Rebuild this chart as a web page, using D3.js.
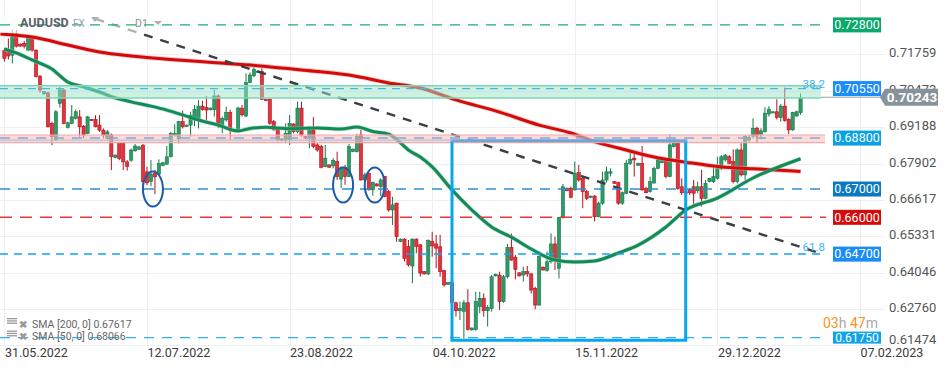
<!DOCTYPE html>
<html><head><meta charset="utf-8">
<script src="https://cdn.jsdelivr.net/npm/d3@7"></script>
<style>html,body{margin:0;padding:0;background:#fff;}svg{display:block;font-family:Roboto,"Open Sans",sans-serif;}</style>
</head><body><svg id="c" width="949" height="370"></svg>
<script>
// ---- DATA ----
const opens=[0.7189,0.7182,0.7173,0.7248,0.7212,0.7215,0.7191,0.7236,0.7191,0.7099,0.7036,0.7040,0.6932,0.6873,0.7003,0.7050,0.6918,0.6932,0.6950,0.6955,0.6922,0.6896,0.6946,0.6946,0.6926,0.6908,0.6879,0.6891,0.6812,0.6864,0.6861,0.6796,0.6802,0.6835,0.6840,0.6855,0.6761,0.6726,0.6755,0.6753,0.6783,0.6788,0.6814,0.6891,0.6879,0.6938,0.6922,0.6926,0.6944,0.6944,0.6993,0.6988,0.6980,0.6980,0.7029,0.6927,0.6944,0.6970,0.6907,0.6909,0.6986,0.6958,0.7076,0.7100,0.7112,0.7115,0.7017,0.7017,0.6938,0.6911,0.6871,0.6874,0.6874,0.6930,0.6903,0.6986,0.6885,0.6885,0.6907,0.6856,0.6850,0.6779,0.6785,0.6782,0.6797,0.6735,0.6777,0.6744,0.6832,0.6832,0.6891,0.6732,0.6756,0.6697,0.6718,0.6709,0.6744,0.6691,0.6626,0.6650,0.6515,0.6523,0.6497,0.6428,0.6523,0.6503,0.6408,0.6400,0.6514,0.6506,0.6496,0.6412,0.6363,0.6370,0.6298,0.6270,0.6267,0.6298,0.6202,0.6204,0.6284,0.6314,0.6270,0.6278,0.6393,0.6396,0.6302,0.6390,0.6494,0.6459,0.6404,0.6396,0.6408,0.6400,0.6349,0.6290,0.6424,0.6412,0.6443,0.6506,0.6420,0.6602,0.6703,0.6703,0.6697,0.6758,0.6738,0.6691,0.6671,0.6675,0.6602,0.6650,0.6732,0.6756,0.6726,0.6723,0.6650,0.6685,0.6791,0.6809,0.6784,0.6791,0.6702,0.6691,0.6721,0.6773,0.6793,0.6800,0.6744,0.6850,0.6862,0.6708,0.6690,0.6699,0.6708,0.6694,0.6708,0.6667,0.6726,0.6726,0.6738,0.6773,0.6803,0.6814,0.6797,0.6726,0.6838,0.6750,0.6873,0.6887,0.6915,0.6894,0.6903,0.6965,0.6970,0.6973,0.6953,0.6993,0.6946,0.6909,0.6958,0.6970];
const highs=[0.7197,0.7232,0.7264,0.7262,0.7215,0.7224,0.7244,0.7240,0.7193,0.7103,0.7047,0.7044,0.6938,0.6979,0.7061,0.7052,0.6938,0.6997,0.6981,0.6979,0.6926,0.6958,0.6948,0.6961,0.6961,0.6914,0.6908,0.6896,0.6822,0.6867,0.6867,0.6802,0.6843,0.6859,0.6852,0.6859,0.6779,0.6802,0.6767,0.6805,0.6795,0.6852,0.6902,0.6929,0.6941,0.6977,0.6928,0.6973,0.6997,0.7014,0.7012,0.7028,0.6988,0.7050,0.7033,0.6956,0.6991,0.6980,0.6913,0.6991,0.6997,0.7109,0.7112,0.7133,0.7120,0.7127,0.7019,0.7021,0.6944,0.6918,0.6879,0.6932,0.6962,0.6932,0.7009,0.7009,0.6887,0.6923,0.6954,0.6862,0.6856,0.6856,0.6787,0.6809,0.6832,0.6779,0.6785,0.6859,0.6843,0.6895,0.6909,0.6758,0.6758,0.6726,0.6720,0.6738,0.6746,0.6697,0.6673,0.6652,0.6525,0.6526,0.6520,0.6526,0.6526,0.6506,0.6410,0.6522,0.6549,0.6538,0.6538,0.6414,0.6372,0.6380,0.6302,0.6302,0.6308,0.6346,0.6211,0.6337,0.6337,0.6331,0.6290,0.6396,0.6401,0.6408,0.6396,0.6506,0.6543,0.6467,0.6406,0.6426,0.6428,0.6402,0.6355,0.6479,0.6426,0.6479,0.6543,0.6532,0.6602,0.6718,0.6705,0.6708,0.6797,0.6785,0.6744,0.6697,0.6677,0.6679,0.6655,0.6761,0.6779,0.6773,0.6728,0.6726,0.6691,0.6803,0.6838,0.6824,0.6793,0.6852,0.6708,0.6744,0.6779,0.6809,0.6802,0.6805,0.6894,0.6879,0.6864,0.6738,0.6693,0.6702,0.6732,0.6726,0.6767,0.6732,0.6740,0.6777,0.6814,0.6820,0.6824,0.6820,0.6840,0.6844,0.6862,0.6891,0.6891,0.6950,0.6920,0.6915,0.6989,0.6993,0.6975,0.7017,0.7001,0.7059,0.6950,0.6973,0.6977,0.7038];
const lows=[0.7150,0.7158,0.7144,0.7200,0.7203,0.7197,0.7189,0.7185,0.7094,0.7040,0.7033,0.6918,0.6855,0.6871,0.6988,0.6929,0.6914,0.6929,0.6946,0.6885,0.6879,0.6894,0.6941,0.6918,0.6902,0.6879,0.6875,0.6767,0.6809,0.6802,0.6767,0.6765,0.6796,0.6832,0.6838,0.6714,0.6714,0.6710,0.6682,0.6749,0.6781,0.6785,0.6812,0.6885,0.6861,0.6914,0.6920,0.6885,0.6922,0.6914,0.6977,0.6944,0.6978,0.6956,0.6915,0.6897,0.6938,0.6874,0.6905,0.6907,0.6956,0.6954,0.7074,0.7095,0.7110,0.7015,0.7010,0.6927,0.6907,0.6868,0.6869,0.6862,0.6856,0.6897,0.6897,0.6885,0.6878,0.6844,0.6844,0.6832,0.6773,0.6777,0.6775,0.6773,0.6732,0.6703,0.6715,0.6742,0.6830,0.6829,0.6730,0.6730,0.6695,0.6676,0.6709,0.6676,0.6671,0.6620,0.6573,0.6514,0.6512,0.6444,0.6426,0.6367,0.6473,0.6391,0.6398,0.6396,0.6461,0.6420,0.6390,0.6355,0.6361,0.6290,0.6249,0.6237,0.6172,0.6200,0.6200,0.6200,0.6261,0.6249,0.6214,0.6267,0.6391,0.6273,0.6298,0.6384,0.6447,0.6381,0.6391,0.6373,0.6390,0.6331,0.6275,0.6287,0.6412,0.6408,0.6437,0.6414,0.6384,0.6596,0.6692,0.6667,0.6694,0.6726,0.6632,0.6661,0.6669,0.6585,0.6600,0.6644,0.6723,0.6744,0.6718,0.6644,0.6644,0.6682,0.6785,0.6744,0.6782,0.6694,0.6685,0.6687,0.6720,0.6770,0.6791,0.6738,0.6741,0.6847,0.6697,0.6679,0.6686,0.6679,0.6635,0.6685,0.6638,0.6664,0.6724,0.6721,0.6734,0.6767,0.6797,0.6788,0.6720,0.6720,0.6744,0.6732,0.6867,0.6879,0.6862,0.6876,0.6899,0.6956,0.6968,0.6946,0.6938,0.6938,0.6894,0.6906,0.6956,0.6962];
const closes=[0.7162,0.7170,0.7248,0.7205,0.7205,0.7205,0.7238,0.7191,0.7097,0.7050,0.7044,0.6920,0.6885,0.6973,0.7050,0.6932,0.6934,0.6955,0.6973,0.6920,0.6891,0.6955,0.6944,0.6920,0.6908,0.6891,0.6902,0.6814,0.6820,0.6808,0.6796,0.6779,0.6838,0.6852,0.6849,0.6726,0.6722,0.6753,0.6743,0.6790,0.6793,0.6814,0.6896,0.6896,0.6938,0.6920,0.6926,0.6961,0.6981,0.6993,0.6981,0.6979,0.6986,0.7029,0.6932,0.6950,0.6970,0.6909,0.6911,0.6986,0.6962,0.7076,0.7103,0.7123,0.7117,0.7017,0.7013,0.6932,0.6909,0.6874,0.6877,0.6897,0.6932,0.6903,0.6986,0.6891,0.6880,0.6907,0.6850,0.6838,0.6777,0.6809,0.6777,0.6801,0.6744,0.6773,0.6744,0.6850,0.6841,0.6885,0.6732,0.6750,0.6697,0.6723,0.6711,0.6732,0.6673,0.6626,0.6644,0.6532,0.6523,0.6455,0.6432,0.6523,0.6497,0.6403,0.6400,0.6518,0.6499,0.6491,0.6408,0.6361,0.6370,0.6300,0.6270,0.6278,0.6298,0.6204,0.6209,0.6302,0.6314,0.6270,0.6282,0.6390,0.6399,0.6302,0.6390,0.6494,0.6449,0.6416,0.6393,0.6408,0.6400,0.6343,0.6290,0.6461,0.6414,0.6443,0.6506,0.6449,0.6600,0.6708,0.6694,0.6671,0.6756,0.6732,0.6691,0.6667,0.6675,0.6602,0.6650,0.6732,0.6761,0.6761,0.6720,0.6650,0.6687,0.6791,0.6805,0.6803,0.6791,0.6697,0.6687,0.6726,0.6773,0.6803,0.6800,0.6744,0.6856,0.6862,0.6702,0.6687,0.6688,0.6687,0.6685,0.6708,0.6667,0.6720,0.6738,0.6744,0.6773,0.6814,0.6820,0.6791,0.6726,0.6838,0.6750,0.6885,0.6883,0.6915,0.6887,0.6906,0.6968,0.6982,0.6973,0.6953,0.6993,0.6942,0.6909,0.6970,0.6973,0.70243];

// moving averages: [bar index, value]
const sma200Pts=[[-1,0.7248],[7,0.7237],[16,0.7209],[24,0.7184],[32,0.7170],[41,0.7159],[51,0.7149],[62,0.7138],[75,0.7121],[87,0.7103],[97,0.7075],[105,0.7057],[114,0.7015],[125,0.6972],[135,0.6926],[143,0.6898],[150,0.6863],[155,0.6845],[164,0.6813],[172,0.6795],[181,0.6778],[189,0.6772],[201,0.6762]];
const sma50Pts=[[0,0.7195],[3,0.7181],[7,0.7156],[12,0.7124],[16,0.7078],[20,0.7061],[24,0.7043],[28,0.7022],[32,0.7008],[37,0.6993],[41,0.6979],[45,0.6962],[49,0.6944],[54,0.6926],[59,0.6905],[62,0.6914],[66,0.6918],[72,0.6913],[79,0.6916],[85,0.6912],[89,0.6919],[93,0.6903],[97,0.6894],[100,0.6863],[102,0.6838],[105,0.6813],[108,0.6778],[113,0.6697],[118,0.6626],[123,0.6566],[128,0.6530],[133,0.6488],[139,0.6449],[144,0.6442],[149,0.6446],[155,0.6474],[160,0.6502],[167,0.6566],[172,0.6626],[180,0.6668],[189,0.6739],[201,0.6807]];

const levelValues=[0.728,0.7055,0.688,0.670,0.660,0.647,0.6175];
const levelLabels=["0.72800","0.70550","0.68800","0.67000","0.66000","0.64700","0.61750"];
const tickValues=[0.71759,0.70473,0.69188,0.67902,0.66617,0.65331,0.64046,0.62760,0.61474];
const tickLabels=["0.71759","0.70473","0.69188","0.67902","0.66617","0.65331","0.64046","0.62760","0.61474"];
const dateIdx=[0,36,72,108,144,180,216];
const dateLabels=["31.05.2022","12.07.2022","23.08.2022","04.10.2022","15.11.2022","29.12.2022","07.02.2023"];
const bandTeal=[0.7022,0.7065];
const bandPink=[0.6864,0.6891];
const trendPts=[[23,0.7301],[205,0.6477]];
const boxRange={i0:113,i1:172,top:0.6871,bottom:0.6166};
const ellipsePts=[[37.5,0.6700],[85.5,0.6714],[93.5,0.6714]];
const fibLabels=[["38.2",0.7072],["61.8",0.6494]];
const lastPrice=0.70243;
const legendRows=["SMA [200, 0] 0.67617","SMA [50, 0] 0.68066"];

// ---- SCALES ----
const svg=d3.select("#c");
const x=d3.scaleLinear().domain([0,216]).range([4.4,860]);
const y=d3.scaleLinear().domain([0.6175,0.728]).range([337.6,24.9]);
const plotRight=885, plotBottom=345, lineEnd=826;

// grid
const g=svg.append("g");
g.selectAll(".hg").data(tickValues).enter().append("line")
 .attr("x1",0).attr("x2",plotRight).attr("y1",d=>Math.round(y(d))+0.5).attr("y2",d=>Math.round(y(d))+0.5)
 .attr("stroke","#efefef").attr("stroke-width",1);
g.selectAll(".vg").data(dateIdx).enter().append("line")
 .attr("x1",d=>Math.round(x(d))+0.5).attr("x2",d=>Math.round(x(d))+0.5).attr("y1",0).attr("y2",plotBottom)
 .attr("stroke","#efefef").attr("stroke-width",1);

// candles
const idx=d3.range(opens.length);
const cg=svg.append("g");
const up="#2e9c66", upS="#15784a", dn="#e2343f", dnS="#b3121d";
cg.selectAll(".wick").data(idx).enter().append("line")
 .attr("x1",i=>x(i)).attr("x2",i=>x(i)).attr("y1",i=>y(highs[i])).attr("y2",i=>y(lows[i]))
 .attr("stroke",i=>closes[i]>=opens[i]?upS:dnS).attr("stroke-width",1);
cg.selectAll(".body").data(idx).enter().append("rect")
 .attr("x",i=>x(i)-1.6).attr("width",3.2)
 .attr("y",i=>y(Math.max(opens[i],closes[i])))
 .attr("height",i=>Math.max(1.2,Math.abs(y(opens[i])-y(closes[i]))))
 .attr("fill",i=>closes[i]>=opens[i]?up:dn)
 .attr("stroke",i=>closes[i]>=opens[i]?upS:dnS).attr("stroke-width",0.6);

// SMAs
const ln=d3.line().x(d=>x(d[0])).y(d=>y(d[1])).curve(d3.curveMonotoneX);
svg.append("path").attr("d",ln(sma200Pts)).attr("fill","none").attr("stroke","#f29b9b").attr("stroke-width",4.6).attr("opacity",0.6);
svg.append("path").attr("d",ln(sma200Pts)).attr("fill","none").attr("stroke","#d20a0a").attr("stroke-width",3);
svg.append("path").attr("d",ln(sma50Pts)).attr("fill","none").attr("stroke","#8fcfb0").attr("stroke-width",4.4).attr("opacity",0.6);
svg.append("path").attr("d",ln(sma50Pts)).attr("fill","none").attr("stroke","#138a57").attr("stroke-width",3);

// trendline
svg.append("line").attr("x1",x(trendPts[0][0])).attr("y1",y(trendPts[0][1])).attr("x2",x(trendPts[1][0])).attr("y2",y(trendPts[1][1]))
 .attr("stroke","#3a3f44").attr("stroke-width",2.4).attr("stroke-dasharray","9,8");

// header background (fades candles under title)
svg.append("rect").attr("x",0).attr("y",13).attr("width",170).attr("height",20).attr("fill","#fff").attr("opacity",0.6);

// bands
svg.append("rect").attr("x",0).attr("width",lineEnd-5).attr("y",y(bandTeal[1])).attr("height",y(bandTeal[0])-y(bandTeal[1]))
 .attr("fill","#9fe4c9").attr("opacity",0.5);
[bandTeal[1],bandTeal[0]].forEach(v=>svg.append("line").attr("x1",0).attr("x2",lineEnd-5).attr("y1",y(v)).attr("y2",y(v)).attr("stroke","#7fd6b3").attr("stroke-width",1.5));
svg.append("rect").attr("x",0).attr("width",lineEnd-1).attr("y",y(bandPink[1])).attr("height",y(bandPink[0])-y(bandPink[1]))
 .attr("fill","#f8bcbc").attr("opacity",0.55);
[bandPink[1],bandPink[0]].forEach(v=>svg.append("line").attr("x1",0).attr("x2",lineEnd-1).attr("y1",y(v)).attr("y2",y(v)).attr("stroke","#f4a9a9").attr("stroke-width",1.2));

// level lines
const lvlStyle=[
 {c:"#1cae78",dash:"10,8",w:1.4,box:"#0ba86c"},
 {c:"#46b9ea",dash:"8,6",w:1.3,box:"#1a8dfb"},
 {c:"#86a9d4",dash:"10,8",w:1.5,box:"#08a2e4"},
 {c:"#2f8ed6",dash:"10,8",w:1.5,box:"#0b79c0"},
 {c:"#e8393b",dash:"12,8",w:1.5,box:"#d50b0b"},
 {c:"#12a5f0",dash:"8,6",w:1.5,box:"#1a8cf5"},
 {c:"#2cb2f2",dash:"10,8",w:1.4,box:"#0fa4e6"}];
levelValues.forEach((v,k)=>{
 svg.append("line").attr("x1",0).attr("x2",lineEnd).attr("y1",y(v)).attr("y2",y(v))
  .attr("stroke",lvlStyle[k].c).attr("stroke-width",lvlStyle[k].w).attr("stroke-dasharray",lvlStyle[k].dash);
});

// blue range box
const bx0=x(boxRange.i0), bx1=x(boxRange.i1), by0=y(boxRange.top), by1=y(boxRange.bottom);
svg.append("path").attr("d",`M${bx0},${by0}L${bx0},${by1}L${bx1},${by1}L${bx1},${by0}`).attr("fill","none").attr("stroke","#06a6f1").attr("stroke-width",3);
svg.append("line").attr("x1",bx0-1.5).attr("x2",bx1+1.5).attr("y1",by0).attr("y2",by0).attr("stroke","#6fa6d8").attr("stroke-width",3);
svg.append("line").attr("x1",0).attr("x2",bx0).attr("y1",by0-0.5).attr("y2",by0-0.5).attr("stroke","#a9c0de").attr("stroke-width",1.5).attr("opacity",0.7);

// ellipses
svg.selectAll(".ell").data(ellipsePts).enter().append("ellipse")
 .attr("cx",d=>x(d[0])).attr("cy",d=>y(d[1])).attr("rx",10).attr("ry",17.5)
 .attr("fill","none").attr("stroke","#1d5ca6").attr("stroke-width",2);

// fib labels
svg.selectAll(".fib").data(fibLabels).enter().append("text")
 .attr("x",825).attr("y",d=>y(d[1])+4).attr("text-anchor","end").attr("font-size",11.5).attr("fill","#3db3ef").text(d=>d[0]);

// current price line
svg.append("line").attr("x1",lineEnd-5).attr("x2",882).attr("y1",y(lastPrice)).attr("y2",y(lastPrice)).attr("stroke","#9aa3a8").attr("stroke-width",1.2);

// right axis tick labels
svg.selectAll(".tl").data(tickValues).enter().append("text")
 .attr("x",889).attr("y",(d,i)=>Math.min(y(d)-1.5,339)+4.5).attr("font-size",13).attr("fill","#555").text((d,i)=>tickLabels[i]);

// level label boxes
levelValues.forEach((v,k)=>{
 const h=k===levelValues.length-1?12:15;
 svg.append("rect").attr("x",833).attr("y",y(v)-h/2).attr("width",48).attr("height",h).attr("fill",lvlStyle[k].box);
 svg.append("text").attr("x",857).attr("y",y(v)+4.2).attr("text-anchor","middle").attr("font-size",k===levelValues.length-1?12:12.5).attr("fill","#fff").text(levelLabels[k]);
});

// current price tag
const py=y(lastPrice);
svg.append("path").attr("d",`M880,${py}L885,${py-8.5}L938,${py-8.5}L938,${py+8.5}L885,${py+8.5}Z`).attr("fill","#87939a");
svg.append("text").attr("x",912).attr("y",py+5).attr("text-anchor","middle").attr("font-size",13.5).attr("font-weight","bold").attr("fill","#fff").text("0.70243");

// date labels
svg.selectAll(".dl").data(dateIdx).enter().append("text")
 .attr("x",d=>Math.max(5,x(d)+0.5)).attr("y",357).attr("font-size",12.5).attr("fill","#3a3a3a").text((d,i)=>dateLabels[i]);

// countdown
const cd=svg.append("text").attr("x",823).attr("y",328).attr("font-size",14);
cd.append("tspan").attr("fill","#f7931e").text("03");
cd.append("tspan").attr("fill","#a9a9a9").text("h ");
cd.append("tspan").attr("fill","#f7931e").text("47");
cd.append("tspan").attr("fill","#a9a9a9").text("m");

// legend
legendRows.forEach((t,k)=>{
 const ly=324+k*12.5;
 for(let j=0;j<3;j++) svg.append("rect").attr("x",7).attr("y",ly-6+j*2.3).attr("width",10).attr("height",1.3).attr("fill","#9a9a9a");
 svg.append("text").attr("x",19).attr("y",ly+3.5).attr("font-size",10).attr("font-weight","bold").attr("fill","#9a9a9a").text("✖");
 svg.append("text").attr("x",32).attr("y",ly+3.5).attr("font-size",10.5).attr("fill","#666").text(t);
});

// header
svg.append("text").attr("x",20).attr("y",27).attr("font-size",12.5).attr("font-weight","bold").attr("fill","#5b6166").text("AUDUSD");
svg.append("text").attr("x",73).attr("y",27).attr("font-size",10).attr("fill","#9aa0a4").text("FX");
svg.append("path").attr("d","M91,17L99,17L95,22Z").attr("fill","#aab0b4");
svg.append("text").attr("x",135).attr("y",27).attr("font-size",10.5).attr("fill","#8a9094").text("D1");
svg.append("path").attr("d","M154,21L162,21L158,25Z").attr("fill","#aab0b4");
</script></body></html>
